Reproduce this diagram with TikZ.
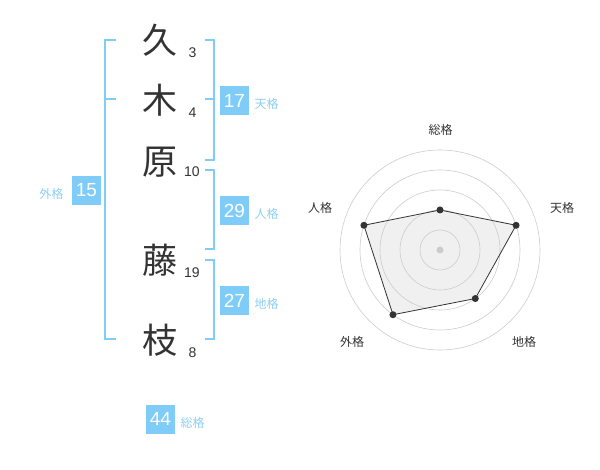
\documentclass[tikz,border=0pt]{standalone}
\usepackage{fontspec}
\setmainfont{Liberation Sans}
\newfontfamily\jpfont{Noto Sans CJK JP}
\usepackage{tikz}
\definecolor{kakublue}{HTML}{80CCF8}
\definecolor{kakutext}{HTML}{8CCFF2}
\definecolor{inkgray}{HTML}{333333}

\begin{document}
\begin{tikzpicture}[x=1pt,y=-1pt,
 kanji/.style={font=\jpfont\fontsize{35}{35}\selectfont,text=inkgray},
 strokes/.style={font=\fontsize{14}{14}\selectfont,text=inkgray},
 kakubox/.style={fill=kakublue,text=white,minimum size=29pt,inner sep=0pt,font=\fontsize{19}{19}\selectfont},
 kakuname/.style={anchor=west,font=\jpfont\fontsize{12}{12}\selectfont,text=kakutext},
 bracket/.style={draw=kakublue,line width=2pt},
 ring/.style={draw=gray!40,line width=0.6pt},
 axisname/.style={font=\jpfont\fontsize{12}{12}\selectfont,text=inkgray}]
\useasboundingbox (0,0) rectangle (600,470);
\node[kanji] (k1) at (160,40) {久};
\node[kanji] (k2) at (160,100) {木};
\node[kanji] (k3) at (160,162) {原};
\node[kanji] (k4) at (160,260) {藤};
\node[kanji] (k5) at (160,340) {枝};
\node[strokes] (n1) at (192.5,53) {3};
\node[strokes] (n2) at (192.5,113) {4};
\node[strokes] (n3) at (192,172) {10};
\node[strokes] (n4) at (192,273) {19};
\node[strokes] (n5) at (192.5,353) {8};
\draw[bracket] (116,40) -- (105,40) -- (105,339) -- (116,339);
\draw[bracket] (105,99) -- (116,99);
\draw[bracket] (205,40) -- (214,40) -- (214,160) -- (205,160);
\draw[bracket] (205,99) -- (214,99);
\draw[bracket] (205,170) -- (214,170) -- (214,249) -- (205,249);
\draw[bracket] (205,260) -- (214,260) -- (214,339) -- (205,339);
\node[kakubox] (ten) at (234.5,100.5) {17};
\node[kakuname] (tenl) at (251,104) {天格};
\node[kakubox] (jin) at (234.5,210.5) {29};
\node[kakuname] (jinl) at (251,214) {人格};
\node[kakubox] (chi) at (234.5,300.5) {27};
\node[kakuname] (chil) at (251,304) {地格};
\node[kakubox] (gai) at (86.5,190.5) {15};
\node[kakuname,anchor=east] (gail) at (67,194) {外格};
\node[kakubox] (sou) at (160.5,419) {44};
\node[kakuname] (soul) at (177,423) {総格};
\coordinate (c) at (440,250);
\coordinate (rsou) at ([shift={(-90:40)}]c);
\coordinate (rten) at ([shift={(-18:80)}]c);
\coordinate (rchi) at ([shift={(54:60)}]c);
\coordinate (rgai) at ([shift={(126:80)}]c);
\coordinate (rjin) at ([shift={(198:80)}]c);
\fill[gray!12] (rsou) -- (rten) -- (rchi) -- (rgai) -- (rjin) -- cycle;
\foreach \r in {20,40,...,100} \draw[ring] (c) circle (\r);
\draw[inkgray,line width=0.8pt] (rsou) -- (rten) -- (rchi) -- (rgai) -- (rjin) -- cycle;
\foreach \p in {rsou,rten,rchi,rgai,rjin} \fill[inkgray] (\p) circle (3.5);
\fill[gray!40] (c) circle (3.5);
\node[axisname] (asou) at (440.5,130) {総格};
\node[axisname] (aten) at (562,208) {天格};
\node[axisname] (achi) at (524,342) {地格};
\node[axisname] (agai) at (352,342) {外格};
\node[axisname] (ajin) at (320,208) {人格};
\end{tikzpicture}
\end{document}
